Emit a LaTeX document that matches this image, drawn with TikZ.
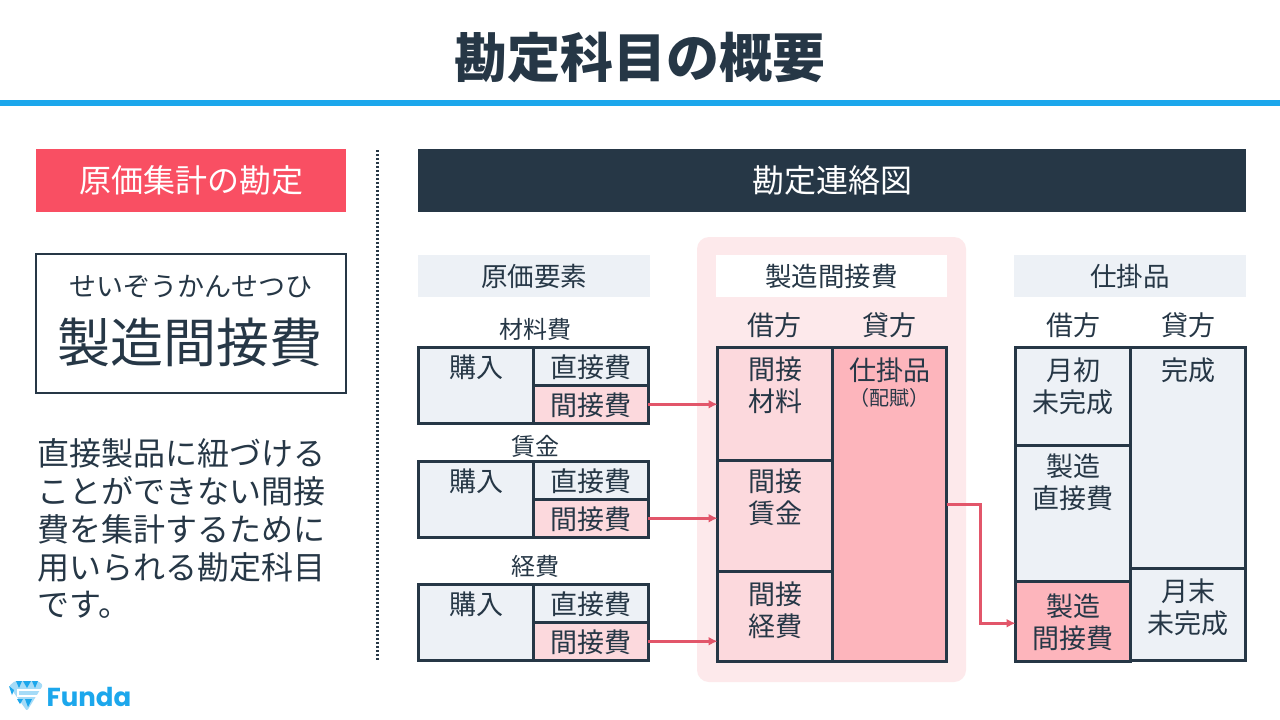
\documentclass[tikz,border=0pt]{standalone}
\usepackage{fontspec}
\usepackage{tikz}
\usetikzlibrary{arrows.meta}
\setmainfont{Noto Sans CJK JP}
\newfontfamily\logofont{Poppins}
\definecolor{ink}{HTML}{263746}
\definecolor{skyblue}{HTML}{1CA7EC}
\definecolor{skylight}{HTML}{A5DBF7}
\definecolor{redhead}{HTML}{F94F63}
\definecolor{redline}{HTML}{E2566A}
\definecolor{mist}{HTML}{EDF1F6}
\definecolor{panelpink}{HTML}{FDE9EB}
\definecolor{softpink}{HTML}{FCD9DD}
\definecolor{deeppink}{HTML}{FDB5BC}
\newcommand{\fs}[1]{\fontsize{#1}{#1}\selectfont}
\tikzset{
	txt/.style={inner sep=0pt, outer sep=0pt, text=ink, align=center, font=\fs{27}},
	small/.style={txt, font=\fs{24}},
	band/.style={anchor=north west, inner sep=0pt, outer sep=0pt, font=\fs{26.5}, text=ink},
	cell/.style={draw=ink, line width=3pt, anchor=north west, inner sep=0pt, outer sep=0pt, fill=mist},
	flow/.style={draw=redline, line width=3pt, -{Latex[length=9pt,width=9pt]}}
}
\begin{document}
\begin{tikzpicture}[x=1pt, y=-1pt]
	\useasboundingbox[fill=white] (0,0) rectangle (1280,720);
	%head
	\node[txt, font=\fs{53}\bfseries] (title) at (640,58) {勘定科目の概要};
	\fill[skyblue] (0,100) rectangle (1280,106);
	%left column
	\node[band, fill=redhead, text=white, font=\fs{32}, minimum width=310, minimum height=63] (lefthead) at (36,149) {原価集計の勘定};
	\node[band, draw=ink, line width=2pt, minimum width=310, minimum height=139] (termbox) at (36,254) {};
	\node[txt] (kana) at (191,287) {せいぞうかんせつひ};
	\node[txt, font=\fs{53}] (term) at (190,342) {製造間接費};
	\foreach \n/\y/\t in {
		a/453/直接製品に紐づける,
		b/491/ことができない間接,
		c/529/費を集計するために,
		d/567/用いられる勘定科目,
		e/605/です。
	}
	\node[txt, anchor=west, font=\fs{32}] (line\n) at (37.5,\y) {\t};
	\draw[ink, line width=3pt, dash pattern=on 2pt off 2pt] (377,150) -- (377,660);
	%right head
	\node[band, fill=ink, text=white, font=\fs{32}, minimum width=828, minimum height=63] (righthead) at (418,149) {勘定連絡図};
	\fill[panelpink, rounded corners=12pt] (697,237) rectangle (966,682);
	\node[band, fill=mist, minimum width=232, minimum height=42] (headgenka) at (418,255) {原価要素};
	\node[band, fill=white, minimum width=231, minimum height=42] (headseizo) at (716,255) {製造間接費};
	\node[band, fill=mist, minimum width=232, minimum height=42] (headshikake) at (1014,255) {仕掛品};
	%cost rows
	\foreach \n/\ylab/\top/\name in {1/329/347.5/材料費, 2/446/461.5/賃金, 3/566/584.5/経費}{
		\node[small] (name\n) at (535,\ylab) {\name};
		\node[cell, minimum width=115, minimum height=75.5] (buy\n) at (418.5,\top) {};
		\node[cell, minimum width=114.5, minimum height=38] (direct\n) at (533.5,\top) {};
		\node[cell, fill=softpink, minimum width=114.5, minimum height=37.5] (indirect\n) at (533.5,\top+38) {};
		\node[txt] (buytext\n) at (476,\top+19.5) {購入};
		\node[txt] (directtext\n) at (591,\top+20) {直接費};
		\node[txt] (indirecttext\n) at (591,\top+58) {間接費};
	}
	%overhead account
	\node[txt] (debit1) at (774,325) {借方};
	\node[txt] (credit1) at (889,325) {貸方};
	\node[cell, fill=softpink, minimum width=115, minimum height=113] (mat) at (717.5,347.5) {};
	\node[cell, fill=softpink, minimum width=115, minimum height=111] (lab) at (717.5,460.5) {};
	\node[cell, fill=softpink, minimum width=115, minimum height=89.5] (exp) at (717.5,571.5) {};
	\node[cell, fill=deeppink, minimum width=114, minimum height=313.5] (alloc) at (832.5,347.5) {};
	\node[txt] (mattext) at (775,385) {間接\\[5pt]材料};
	\node[txt] (labtext) at (775,497) {間接\\[5pt]賃金};
	\node[txt] (exptext) at (775,610) {間接\\[5pt]経費};
	\node[txt] (alloctext) at (890,370) {仕掛品};
	\node[txt, font=\fs{20}] (allocnote) at (889,398) {（配賦）};
	%work in process
	\node[txt] (debit2) at (1073,325) {借方};
	\node[txt] (credit2) at (1188,325) {貸方};
	\node[cell, minimum width=115, minimum height=98] (open) at (1015.5,347.5) {};
	\node[cell, minimum width=115, minimum height=136] (dir) at (1015.5,445.5) {};
	\node[cell, fill=deeppink, minimum width=115, minimum height=79.5] (over) at (1015.5,581.5) {};
	\node[cell, minimum width=115, minimum height=221] (done) at (1130.5,347.5) {};
	\node[cell, minimum width=115, minimum height=91.5] (close) at (1130.5,568.5) {};
	\node[txt] (opentext) at (1073,386) {月初\\[5pt]未完成};
	\node[txt] (dirtext) at (1073,482) {製造\\[5pt]直接費};
	\node[txt] (overtext) at (1073,622) {製造\\[5pt]間接費};
	\node[txt] (donetext) at (1188,370) {完成};
	\node[txt] (closetext) at (1188,607) {月末\\[5pt]未完成};
	%arrows
	\draw[flow] (indirect1.east) -- (indirect1.east -| mat.west);
	\draw[flow] (indirect2.east) -- (indirect2.east -| lab.west);
	\draw[flow] (indirect3.east) -- (indirect3.east -| exp.west);
	\draw[flow] (alloc.east) -- ++(34,0) |- ([yshift=-2pt]over.west);
	%logo
	\fill[skylight, rounded corners=1.5pt] (15,681) -- (38,681) -- (43,685) -- (27,711) -- (9,686) -- cycle;
	\fill[skyblue] (16,681) -- (22,681) -- (19,688) -- cycle
		(23,681) -- (31,681) -- (27,688) -- cycle
		(32,681) -- (38,681) -- (35,688) -- cycle
		(9,686) -- (14,690) -- (12,695) -- cycle
		(17,699) -- (23,699) -- (20,704) -- cycle
		(25,699) -- (32,699) -- (28,707) -- cycle;
	\draw[white, line width=2.5pt] (42,690) -- (18,690) -- (18,696) -- (37,696);
	\node[txt, text=skyblue, font=\logofont\fs{26}\bfseries] (logo) at (89,697) {Funda};
\end{tikzpicture}
\end{document}
